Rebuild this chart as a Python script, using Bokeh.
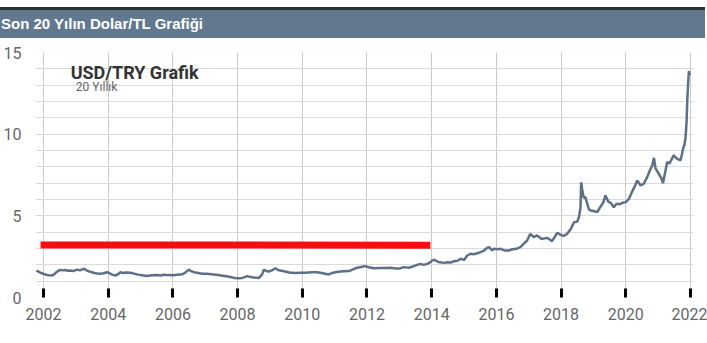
from bokeh.plotting import figure
from bokeh.layouts import column
from bokeh.models import FixedTicker, Label, Div
from bokeh.embed import file_html
from bokeh.resources import INLINE

# ---- data (decimal year, USD/TRY) ----
years = [2001.78, 2001.85, 2001.92, 2002.00, 2002.06, 2002.12, 2002.18, 2002.27, 2002.33, 2002.40,
         2002.46, 2002.53, 2002.60, 2002.67, 2002.75, 2002.83, 2002.92, 2003.00, 2003.04, 2003.12,
         2003.20, 2003.25, 2003.32, 2003.40, 2003.50, 2003.58, 2003.66, 2003.76, 2003.85, 2003.97,
         2004.05, 2004.12, 2004.23, 2004.30, 2004.38, 2004.45, 2004.55, 2004.69, 2004.80, 2004.92,
         2005.05, 2005.20, 2005.35, 2005.50, 2005.62, 2005.72, 2005.85, 2006.00, 2006.13, 2006.30,
         2006.40, 2006.49, 2006.55, 2006.65, 2006.75, 2006.90, 2007.05, 2007.26, 2007.40, 2007.55,
         2007.66, 2007.78, 2007.90, 2008.04, 2008.15, 2008.30, 2008.40, 2008.50, 2008.66, 2008.76,
         2008.81, 2008.88, 2008.97, 2009.08, 2009.17, 2009.25, 2009.43, 2009.60, 2009.80, 2009.94,
         2010.10, 2010.30, 2010.46, 2010.60, 2010.70, 2010.82, 2010.95, 2011.10, 2011.28, 2011.45,
         2011.60, 2011.70, 2011.85, 2011.95, 2012.05, 2012.21, 2012.40, 2012.55, 2012.73, 2012.90,
         2013.00, 2013.14, 2013.30, 2013.45, 2013.55, 2013.65, 2013.75, 2013.86, 2013.95, 2014.02,
         2014.08, 2014.20, 2014.38, 2014.48, 2014.60, 2014.69, 2014.80, 2014.89, 2015.00, 2015.10,
         2015.20, 2015.30, 2015.41, 2015.51, 2015.60, 2015.72, 2015.77, 2015.87, 2015.92, 2016.05,
         2016.13, 2016.25, 2016.38, 2016.50, 2016.62, 2016.74, 2016.85, 2016.95, 2017.05, 2017.15,
         2017.26, 2017.40, 2017.57, 2017.65, 2017.72, 2017.80, 2017.88, 2017.95, 2018.03, 2018.10,
         2018.19, 2018.30, 2018.40, 2018.50, 2018.55, 2018.60, 2018.62, 2018.66, 2018.70, 2018.75,
         2018.80, 2018.86, 2018.91, 2019.00, 2019.12, 2019.20, 2019.30, 2019.37, 2019.45, 2019.55,
         2019.63, 2019.72, 2019.80, 2019.90, 2020.00, 2020.10, 2020.20, 2020.30, 2020.35, 2020.46,
         2020.55, 2020.66, 2020.75, 2020.82, 2020.87, 2020.92, 2021.02, 2021.10, 2021.15, 2021.20,
         2021.28, 2021.35, 2021.48, 2021.58, 2021.69, 2021.74, 2021.77, 2021.82, 2021.85, 2021.88,
         2021.90, 2021.93, 2021.95, 2021.98]
usd_try = [1.65, 1.58, 1.50, 1.45, 1.41, 1.38, 1.36, 1.35, 1.42, 1.55,
           1.64, 1.69, 1.66, 1.68, 1.64, 1.65, 1.62, 1.68, 1.71, 1.66,
           1.72, 1.76, 1.68, 1.60, 1.55, 1.50, 1.47, 1.45, 1.49, 1.55,
           1.47, 1.40, 1.35, 1.42, 1.55, 1.50, 1.53, 1.51, 1.46, 1.40,
           1.36, 1.31, 1.36, 1.38, 1.35, 1.39, 1.37, 1.36, 1.39, 1.42,
           1.55, 1.71, 1.62, 1.55, 1.51, 1.46, 1.45, 1.41, 1.38, 1.33,
           1.30, 1.25, 1.20, 1.18, 1.20, 1.31, 1.25, 1.22, 1.20, 1.42,
           1.71, 1.62, 1.59, 1.68, 1.79, 1.68, 1.61, 1.53, 1.50, 1.51,
           1.52, 1.54, 1.55, 1.50, 1.46, 1.41, 1.52, 1.57, 1.61, 1.62,
           1.75, 1.82, 1.88, 1.92, 1.85, 1.79, 1.81, 1.80, 1.82, 1.78,
           1.77, 1.86, 1.82, 1.92, 2.00, 2.06, 2.00, 2.06, 2.15, 2.27,
           2.31, 2.18, 2.12, 2.16, 2.15, 2.22, 2.25, 2.37, 2.30, 2.57,
           2.68, 2.65, 2.71, 2.78, 2.85, 3.04, 3.08, 2.88, 2.98, 2.96,
           2.98, 2.88, 2.88, 2.95, 2.98, 3.08, 3.30, 3.49, 3.90, 3.70,
           3.80, 3.58, 3.65, 3.55, 3.45, 3.70, 3.96, 3.88, 3.80, 3.78,
           3.90, 4.20, 4.61, 4.65, 4.90, 5.50, 7.06, 6.50, 6.10, 6.14,
           5.80, 5.40, 5.33, 5.30, 5.23, 5.50, 5.80, 6.25, 5.90, 5.75,
           5.53, 5.75, 5.70, 5.80, 5.84, 6.05, 6.50, 6.90, 7.16, 6.86,
           6.95, 7.37, 7.80, 8.10, 8.55, 7.90, 7.57, 7.30, 7.00, 7.50,
           8.29, 8.20, 8.70, 8.50, 8.39, 8.80, 9.10, 9.40, 9.86, 10.8,
           12.06, 13.2, 13.86, 13.6]

# red highlight bar
red_x = [2001.91, 2013.96]
red_y = [3.22, 3.20]

x_ticks = [2002, 2004, 2006, 2008, 2010, 2012, 2014, 2016, 2018, 2020, 2022]
y_ticks = [0, 5, 10, 15]
y_minor = list(range(0, 16))

header_text = "Son 20 Yılın Dolar/TL Grafiği"
title_text = "USD/TRY Grafik"
subtitle_text = "20 Yıllık"

# ---- header band (HTML) ----
header_html = (
    '<div style="position:relative;width:707px;height:40px;background:white;overflow:hidden;">'
    '<div style="position:absolute;left:0;top:7px;width:705px;height:3px;background:#2b3034;"></div>'
    '<div style="position:absolute;left:0;top:10px;width:705px;height:28px;background:#61788f;"></div>'
    '<div style="position:absolute;left:1px;top:10px;height:28px;line-height:28px;'
    'font-family:\'Liberation Sans\',Arial,sans-serif;font-weight:bold;font-size:15px;'
    'color:white;white-space:nowrap;">' + header_text + '</div>'
    '</div>'
)
h = Div(text=header_html, width=707, height=40, margin=(0, 0, 0, 0))

# ---- main chart ----
p = figure(width=707, height=301, x_range=(2001.753, 2022.093), y_range=(0, 15),
           output_backend="svg", toolbar_location=None,
           min_border_left=30, min_border_right=14, min_border_top=12, min_border_bottom=44)
p.outline_line_color = None
p.background_fill_color = "white"
p.border_fill_color = "white"

p.xaxis.ticker = FixedTicker(ticks=x_ticks)
p.yaxis.ticker = FixedTicker(ticks=y_ticks, minor_ticks=y_minor)

p.xgrid.grid_line_color = "#c9c9c9"
p.xgrid.grid_line_width = 1
p.ygrid.grid_line_color = "#dadada"
p.ygrid.minor_grid_line_color = "#dadada"

for ax in (p.xaxis, p.yaxis):
    ax.axis_line_color = None
    ax.major_label_text_font = "Roboto"
    ax.major_label_text_font_size = "16px"
    ax.major_label_text_color = "#666666"
    ax.minor_tick_line_color = None

p.xaxis.major_tick_in = 9
p.xaxis.major_tick_out = 0
p.xaxis.major_tick_line_width = 3
p.xaxis.major_tick_line_color = "black"
p.xaxis.major_label_standoff = 10

p.yaxis.major_tick_line_color = None
p.yaxis.major_tick_in = 0
p.yaxis.major_tick_out = 0
p.yaxis.major_label_standoff = 10

p.line(red_x, red_y, line_color="#f70f0f", line_width=7)
p.line(years, usd_try, line_color="#5e7088", line_width=2.5)

p.add_layout(Label(x=2002.84, y=13.8, text=title_text, text_font="Roboto",
                   text_font_style="bold", text_font_size="18px", text_color="#333333",
                   text_baseline="alphabetic"))
p.add_layout(Label(x=2003.0, y=12.88, text=subtitle_text, text_font="Roboto",
                   text_font_size="12px", text_color="#666666",
                   text_baseline="alphabetic"))

footer = Div(text='<div style="width:707px;height:2px;background:#e4e4e4;"></div>',
             width=707, height=2, margin=(0, 0, 0, 0))

layout = column(h, p, footer, spacing=0)
open("out.html", "w").write(file_html(layout, INLINE))
